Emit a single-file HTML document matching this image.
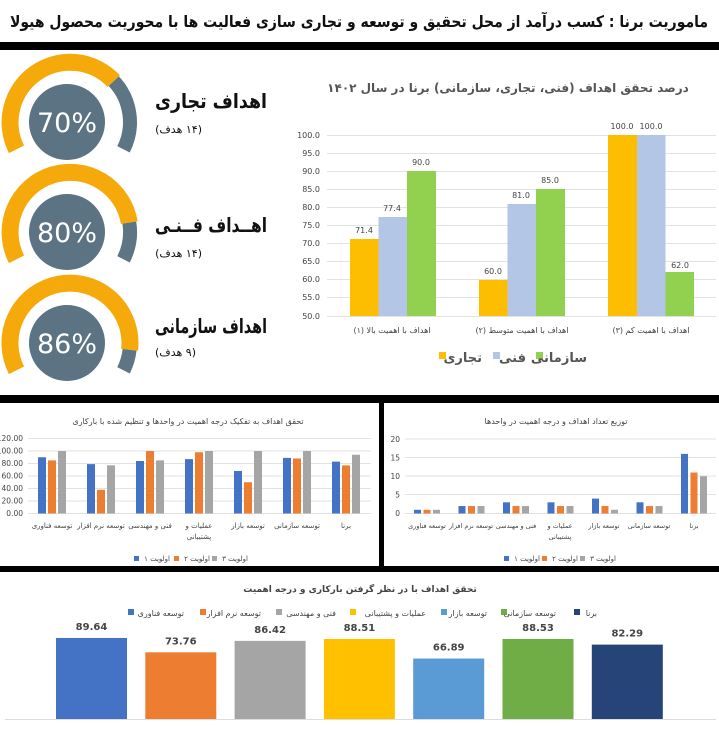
<!DOCTYPE html>
<html><head><meta charset="utf-8"><style>
body{margin:0;background:#fff;width:719px;height:729px;overflow:hidden}
svg{display:block}
text{font-family:"DejaVu Sans","Liberation Sans",sans-serif}
</style></head><body>
<svg width="719" height="729" viewBox="0 0 719 729" xmlns="http://www.w3.org/2000/svg">
<rect width="719" height="729" fill="#fff"/>
<text x="708" y="27" text-anchor="start" direction="rtl" font-size="16" font-weight="bold" fill="#111" textLength="698" lengthAdjust="spacingAndGlyphs">ماموریت برنا : کسب درآمد از محل تحقیق و توسعه و تجاری سازی فعالیت ها با محوریت محصول هیولا</text>
<rect x="0" y="42" width="719" height="8" fill="#000"/>

<!-- gauges -->
<g transform="translate(70,122)">
<path d="M-53.5,27.3 A60,60 0 0 1 43.8,-40.8" fill="none" stroke="#f5a90b" stroke-width="17"/>
<path d="M43.8,-40.8 A60,60 0 0 1 53.5,27.3" fill="none" stroke="#5e7583" stroke-width="14"/>
<circle cx="-3" cy="0" r="38" fill="#5b7382"/>
<text x="-3" y="10" text-anchor="middle" font-size="27" fill="#fff">70%</text>
</g>
<g transform="translate(70,232)">
<path d="M-53.5,27.3 A60,60 0 1 1 59.3,-9.4" fill="none" stroke="#f5a90b" stroke-width="17"/>
<path d="M59.3,-9.4 A60,60 0 0 1 53.5,27.3" fill="none" stroke="#5e7583" stroke-width="14"/>
<circle cx="-3" cy="0" r="38" fill="#5b7382"/>
<text x="-3" y="10" text-anchor="middle" font-size="27" fill="#fff">80%</text>
</g>
<g transform="translate(70,343)">
<path d="M-53.5,27.3 A60,60 0 1 1 59.6,6.8" fill="none" stroke="#f5a90b" stroke-width="17"/>
<path d="M59.6,6.8 A60,60 0 0 1 53.5,27.3" fill="none" stroke="#5e7583" stroke-width="14"/>
<circle cx="-3" cy="0" r="38" fill="#5b7382"/>
<text x="-3" y="10" text-anchor="middle" font-size="27" fill="#fff">86%</text>
</g>
<g font-weight="bold" fill="#111" direction="rtl" text-anchor="start">
<text x="267" y="108" font-size="20" textLength="112" lengthAdjust="spacingAndGlyphs">اهداف تجاری</text>
<text x="267" y="232" font-size="20" textLength="112" lengthAdjust="spacingAndGlyphs">اهــداف فــنـی</text>
<text x="267" y="333" font-size="20" textLength="112" lengthAdjust="spacingAndGlyphs">اهداف سازمانی</text>
</g>
<g fill="#111" font-size="11" direction="rtl" text-anchor="start">
<text x="202" y="133">(۱۴ هدف)</text>
<text x="202" y="257">(۱۴ هدف)</text>
<text x="196" y="356">(۹ هدف)</text>
</g>

<!-- top bar chart -->
<text x="508" y="92" text-anchor="middle" direction="rtl" font-size="12" font-weight="bold" fill="#555">درصد تحقق اهداف (فنی، تجاری، سازمانی)  برنا در سال ۱۴۰۲</text>
<g stroke="#e2e2e2" stroke-width="1">
<line x1="327" x2="716" y1="135.5" y2="135.5"/><line x1="327" x2="716" y1="153.5" y2="153.5"/><line x1="327" x2="716" y1="171.5" y2="171.5"/><line x1="327" x2="716" y1="189.5" y2="189.5"/><line x1="327" x2="716" y1="207.5" y2="207.5"/><line x1="327" x2="716" y1="225.5" y2="225.5"/><line x1="327" x2="716" y1="243.5" y2="243.5"/><line x1="327" x2="716" y1="261.5" y2="261.5"/><line x1="327" x2="716" y1="279.5" y2="279.5"/><line x1="327" x2="716" y1="297.5" y2="297.5"/><line x1="327" x2="716" y1="316.5" y2="316.5"/>
</g>
<g font-size="8" fill="#444" text-anchor="end">
<text x="320" y="138">100.0</text><text x="320" y="156">95.0</text><text x="320" y="174">90.0</text><text x="320" y="192">85.0</text><text x="320" y="210">80.0</text><text x="320" y="228">75.0</text><text x="320" y="246">70.0</text><text x="320" y="264">65.0</text><text x="320" y="282">60.0</text><text x="320" y="300">55.0</text><text x="320" y="319">50.0</text>
</g>
<g>
<rect x="350" y="239" width="28.5" height="77" fill="#fdbd00"/>
<rect x="378.5" y="217" width="28.5" height="99" fill="#b3c6e6"/>
<rect x="407" y="171" width="29" height="145" fill="#92d050"/>
<rect x="479" y="280" width="28.5" height="36" fill="#fdbd00"/>
<rect x="507.5" y="204" width="28.5" height="112" fill="#b3c6e6"/>
<rect x="536" y="189" width="29" height="127" fill="#92d050"/>
<rect x="608" y="135" width="29" height="181" fill="#fdbd00"/>
<rect x="637" y="135" width="28.5" height="181" fill="#b3c6e6"/>
<rect x="665.5" y="272" width="28.5" height="44" fill="#92d050"/>
</g>
<g font-size="8" fill="#444" text-anchor="middle">
<text x="364" y="233">71.4</text><text x="392" y="211">77.4</text><text x="421" y="165">90.0</text>
<text x="493" y="274">60.0</text><text x="521" y="198">81.0</text><text x="550" y="183">85.0</text>
<text x="622" y="129">100.0</text><text x="651" y="129">100.0</text><text x="680" y="268">62.0</text>
</g>
<g font-size="8" fill="#444" text-anchor="middle" direction="rtl">
<text x="392" y="333">اهداف با اهمیت بالا (۱)</text>
<text x="522" y="333">اهداف با اهمیت متوسط (۲)</text>
<text x="651" y="333">اهداف با اهمیت کم (۳)</text>
</g>
<g font-size="13" font-weight="bold" fill="#555" direction="rtl" text-anchor="start">
<rect x="439" y="352" width="7" height="7" fill="#fdbd00"/><text x="482" y="362">تجاری</text>
<rect x="493" y="352" width="7" height="7" fill="#b3c6e6"/><text x="526" y="362">فنی</text>
<rect x="536" y="352" width="7" height="7" fill="#92d050"/><text x="587" y="362">سازمانی</text>
</g>

<!-- separators -->
<rect x="0" y="395" width="719" height="8" fill="#000"/>
<rect x="379" y="403" width="5" height="164" fill="#000"/>
<rect x="0" y="566" width="719" height="6" fill="#000"/>

<!-- middle left -->
<text x="188" y="424" text-anchor="middle" direction="rtl" font-size="8" fill="#444">تحقق اهداف به تفکیک درجه اهمیت در واحدها و تنظیم شده با بارکاری</text>
<g stroke="#e2e2e2"><line x1="28" x2="371" y1="438.5" y2="438.5"/><line x1="28" x2="371" y1="451" y2="451"/><line x1="28" x2="371" y1="463.5" y2="463.5"/><line x1="28" x2="371" y1="476" y2="476"/><line x1="28" x2="371" y1="488.5" y2="488.5"/><line x1="28" x2="371" y1="501" y2="501"/><line x1="28" x2="371" y1="513.5" y2="513.5"/></g>
<g font-size="7.5" fill="#444" text-anchor="end"><text x="23" y="441">120.00</text><text x="23" y="453.5">100.00</text><text x="23" y="466">80.00</text><text x="23" y="478.5">60.00</text><text x="23" y="491">40.00</text><text x="23" y="503.5">20.00</text><text x="23" y="516">0.00</text></g>
<g id="ml"></g>
<g font-size="7" fill="#444" text-anchor="middle" direction="rtl">
<text x="52" y="528">توسعه فناوری</text><text x="101" y="528">توسعه نرم افزار</text><text x="150" y="528">فنی و مهندسی</text><text x="199" y="528">عملیات و</text><text x="199" y="539">پشتیبانی</text><text x="248" y="528">توسعه بازار</text><text x="297" y="528">توسعه سازمانی</text><text x="346" y="528">برنا</text>
</g>
<g font-size="7" fill="#444" direction="rtl" text-anchor="start">
<rect x="134" y="556" width="5" height="5" fill="#4472c4"/><text x="170" y="561">اولویت ۱</text>
<rect x="174" y="556" width="5" height="5" fill="#ed7d31"/><text x="210" y="561">اولویت ۲</text>
<rect x="212" y="556" width="5" height="5" fill="#a5a5a5"/><text x="248" y="561">اولویت ۳</text>
</g>

<!-- middle right -->
<text x="556" y="424" text-anchor="middle" direction="rtl" font-size="8" fill="#444">توزیع تعداد اهداف و درجه اهمیت در واحدها</text>
<g stroke="#e2e2e2"><line x1="405" x2="716" y1="439" y2="439"/><line x1="405" x2="716" y1="457.5" y2="457.5"/><line x1="405" x2="716" y1="476" y2="476"/><line x1="405" x2="716" y1="494.5" y2="494.5"/><line x1="405" x2="716" y1="513.5" y2="513.5"/></g>
<g font-size="7.5" fill="#444" text-anchor="end"><text x="400" y="442">20</text><text x="400" y="460.5">15</text><text x="400" y="479">10</text><text x="400" y="497.5">5</text><text x="400" y="516">0</text></g>
<g id="mr"></g>
<g font-size="6.5" fill="#444" text-anchor="middle" direction="rtl">
<text x="427" y="528">توسعه فناوری</text><text x="471" y="528">توسعه نرم افزار</text><text x="516" y="528">فنی و مهندسی</text><text x="560" y="528">عملیات و</text><text x="560" y="539">پشتیبانی</text><text x="604" y="528">توسعه بازار</text><text x="649" y="528">توسعه سازمانی</text><text x="694" y="528">برنا</text>
</g>
<g font-size="7" fill="#444" direction="rtl" text-anchor="start">
<rect x="504" y="556" width="5" height="5" fill="#4472c4"/><text x="540" y="561">اولویت ۱</text>
<rect x="542" y="556" width="5" height="5" fill="#ed7d31"/><text x="578" y="561">اولویت ۲</text>
<rect x="580" y="556" width="5" height="5" fill="#a5a5a5"/><text x="616" y="561">اولویت ۳</text>
</g>

<!-- bottom -->
<text x="360" y="592" text-anchor="middle" direction="rtl" font-size="9" font-weight="bold" fill="#444">تحقق اهداف با در نظر گرفتن بارکاری و درجه اهمیت</text>
<g font-size="8" fill="#444" direction="rtl" text-anchor="start">
<rect x="128" y="609" width="6" height="6" fill="#4472c4"/><text x="184" y="616">توسعه فناوری</text>
<rect x="200" y="609" width="6" height="6" fill="#ed7d31"/><text x="261" y="616">توسعه نرم افزار</text>
<rect x="276" y="609" width="6" height="6" fill="#a5a5a5"/><text x="336" y="616">فنی و مهندسی</text>
<rect x="350" y="609" width="6" height="6" fill="#ffc000"/><text x="426" y="616">عملیات و پشتیبانی</text>
<rect x="441" y="609" width="6" height="6" fill="#5b9bd5"/><text x="487" y="616">توسعه بازار</text>
<rect x="501" y="609" width="6" height="6" fill="#70ad47"/><text x="556" y="616">توسعه سازمانی</text>
<rect x="574" y="609" width="6" height="6" fill="#264478"/><text x="597" y="616">برنا</text>
</g>
<line x1="5" x2="716" y1="719.5" y2="719.5" stroke="#ddd"/>
<g id="bt"></g>
</svg>
<script>
var NS="http://www.w3.org/2000/svg";
function R(g,x,y,w,h,c){var r=document.createElementNS(NS,"rect");r.setAttribute("x",x);r.setAttribute("y",y);r.setAttribute("width",w);r.setAttribute("height",h);r.setAttribute("fill",c);document.getElementById(g).appendChild(r);}
function T(g,x,y,s){var t=document.createElementNS(NS,"text");t.setAttribute("x",x);t.setAttribute("y",y);t.setAttribute("text-anchor","middle");t.setAttribute("font-size","10");t.setAttribute("font-weight","bold");t.setAttribute("fill","#444");t.textContent=s;document.getElementById(g).appendChild(t);}
var cols=["#4472c4","#ed7d31","#a5a5a5"];
var ml=[[90,85,100],[79,38,77],[84,100,85],[87,98,100],[68,50,100],[89,88,100],[83,77,94]];
ml.forEach(function(v,i){var x0=38+i*49;v.forEach(function(d,j){var h=d*75/120;R("ml",x0+j*10,513.5-h,8,h,cols[j]);});});
var mr=[[1,1,1],[2,2,2],[3,2,2],[3,2,2],[4,2,1],[3,2,2],[16,11,10]];
mr.forEach(function(v,i){var x0=414+i*44.5;v.forEach(function(d,j){var h=d*74.5/20;R("mr",x0+j*9.5,513.5-h,7,h,cols[j]);});});
var bv=[89.64,73.76,86.42,88.51,66.89,88.53,82.29],bc=["#4472c4","#ed7d31","#a5a5a5","#ffc000","#5b9bd5","#70ad47","#264478"];
bv.forEach(function(d,i){var x=56+i*89.3,h=d*0.904;R("bt",x,719-h,71,h,bc[i]);T("bt",x+35.5,719-h-8,d.toFixed(2));});
</script>
</body></html>
